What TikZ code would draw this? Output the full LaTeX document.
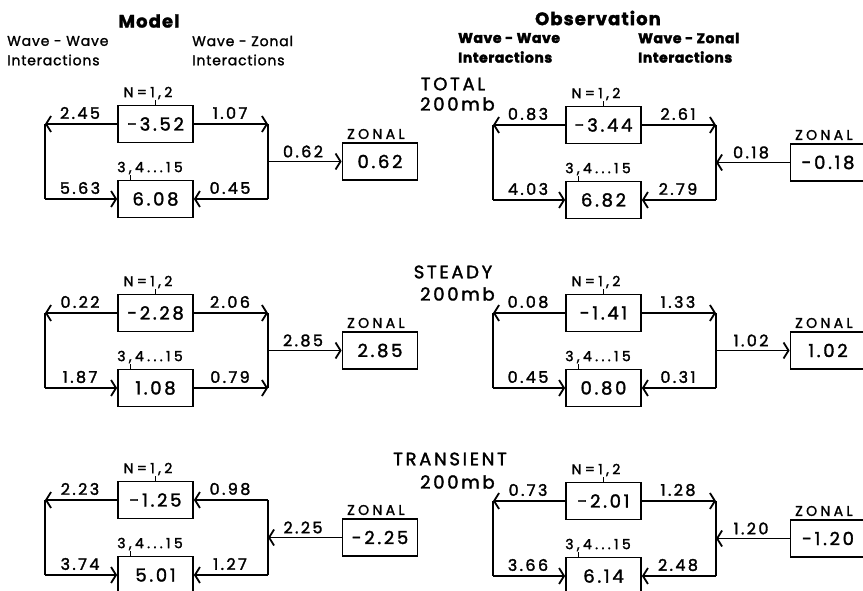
\documentclass[tikz,border=0pt]{standalone}
\usepackage{fontspec}
\setmainfont{Poppins}[LetterSpace=6,FakeBold=1.5]
\newfontfamily\lett{Poppins}[LetterSpace=15,FakeBold=1.8]
\newfontfamily\lettwide{Poppins}[LetterSpace=24,FakeBold=1.8]
\newfontfamily\heavy{Poppins}[LetterSpace=4,FakeBold=2.5]
\usetikzlibrary{arrows.meta}

% One energy-flow panel: upper wave box, lower wave box, zonal box,
% their small captions and the wave-wave loop on the left.
% #1 name prefix, #2 #3 shift, #4 upper value, #5 lower value, #6 zonal value
\newcommand{\fluxpanel}[6]{%
  \begin{scope}[shift={(#2,#3)}]
    \node[valbox] (#1t) at (155.5,0) {#4};
    \node[valbox] (#1b) at (155.5,75) {#5};
    \node[valbox] (#1z) at (380,37.5) {#6};
    \node[tag] (#1tn) at (148,-31) {N=1,2};
    \node[tag] (#1bn) at (150,-31+75) {3,4...15};
    \node[tag,anchor=west] (#1zn) at (347,10) {ZONAL};
    \coordinate (#1tl) at (45,0);
    \coordinate (#1bl) at (45,75);
    \coordinate (#1tr) at (268,0);
    \coordinate (#1br) at (268,75);
    \coordinate (#1j) at (268,37.5);
  \end{scope}
  \draw[thin line] (#1t.north) -- ++(0,-5);
  \draw[thin line] ([xshift=13pt]#1b.north west) -- ++(0,-5);
  \draw[tip] (#1t) -- (#1tl);
  \draw[flow] (#1tl) -- (#1bl);
  \draw[tip] (#1bl) -- (#1b);
  \draw[flow] (#1tr) -- (#1br);
}

% Flux values written along the connectors of panel #1
\newcommand{\fluxnumbers}[6]{%
  \node[num] (#1ntl) at ([xshift=35pt,yshift=11pt]#1tl) {#2};
  \node[num] (#1ntr) at ([xshift=-38pt,yshift=11pt]#1tr) {#3};
  \node[num] (#1nbl) at ([xshift=35pt,yshift=11pt]#1bl) {#4};
  \node[num] (#1nbr) at ([xshift=-38pt,yshift=11pt]#1br) {#5};
  \node[num] (#1nj) at ([xshift=35pt,yshift=10pt]#1j) {#6};
}

\begin{document}
\begin{tikzpicture}[x=1pt,y=-1pt,
  flow/.style={line width=1.8pt},
  thin line/.style={line width=1.2pt},
  tip/.style={flow,-{Straight Barb[length=5pt,width=16pt]}},
  valbox/.style={draw,line width=1.8pt,minimum width=75pt,minimum height=37pt,
    inner sep=0pt,font=\fontsize{18}{18}\lett},
  tag/.style={inner sep=0pt,font=\fontsize{14}{14}\lettwide},
  num/.style={inner sep=0pt,font=\fontsize{16}{16}\lett},
  head/.style={inner sep=0pt,font=\fontsize{18}{18}\selectfont\bfseries},
  sub/.style={inner sep=0pt,anchor=west,font=\fontsize{14}{14}\selectfont},
  subbold/.style={sub,font=\fontsize{14}{14}\heavy\bfseries},
  row/.style={inner sep=0pt,font=\fontsize{18}{18}\lett},
]
\useasboundingbox (0,0) rectangle (863,591);
\clip (0,0) rectangle (863,591);

% column headings
\node[head] (hm) at (149,21) {Model};
\node[sub] (hm1) at (7,41) {Wave - Wave};
\node[sub] (hm2) at (7,60) {Interactions};
\node[sub] (hm3) at (192,41) {Wave - Zonal};
\node[sub] (hm4) at (192,60) {Interactions};
\node[head] (ho) at (598,18) {Observation};
\node[subbold] (ho1) at (458,38) {Wave - Wave};
\node[subbold] (ho2) at (458,57) {Interactions};
\node[subbold] (ho3) at (638,38) {Wave - Zonal};
\node[subbold] (ho4) at (638,57) {Interactions};

% row headings
\node[row] (r1) at (453,84) {TOTAL};
\node[row,anchor=west] (r1p) at (420,104) {200mb};
\node[row] (r2) at (453,272) {STEADY};
\node[row,anchor=west] (r2p) at (420,294) {200mb};
\node[row] (r3) at (450,459) {TRANSIENT};
\node[row,anchor=west] (r3p) at (420,482) {200mb};

% ---- Model, total
\fluxpanel{mA}{0}{124}{-3.52}{6.08}{0.62}
\draw[tip] (mAt) -- (mAtr);
\draw[tip] (mAbr) -- (mAb);
\draw[tip] (mAj) -- (mAz);
\fluxnumbers{mA}{2.45}{1.07}{5.63}{0.45}{0.62}

% ---- Model, steady
\fluxpanel{mB}{0}{313}{-2.28}{1.08}{2.85}
\draw[tip] (mBt) -- (mBtr);
\draw[tip] (mBb) -- (mBbr);
\draw[tip] (mBj) -- (mBz);
\fluxnumbers{mB}{0.22}{2.06}{1.87}{0.79}{2.85}

% ---- Model, transient
\fluxpanel{mC}{0}{500}{-1.25}{5.01}{-2.25}
\draw[tip] (mCtr) -- (mCt);
\draw[tip] (mCbr) -- (mCb);
\draw[tip] (mCz) -- (mCj);
\fluxnumbers{mC}{2.23}{0.98}{3.74}{1.27}{2.25}

% ---- Observation, total
\fluxpanel{oA}{448}{125}{-3.44}{6.82}{-0.18}
\draw[tip] (oAt) -- (oAtr);
\draw[tip] (oAbr) -- (oAb);
\draw[tip] (oAz) -- (oAj);
\fluxnumbers{oA}{0.83}{2.61}{4.03}{2.79}{0.18}

% ---- Observation, steady
\fluxpanel{oB}{448}{313}{-1.41}{0.80}{1.02}
\draw[tip] (oBt) -- (oBtr);
\draw[tip] (oBbr) -- (oBb);
\draw[tip] (oBj) -- (oBz);
\fluxnumbers{oB}{0.08}{1.33}{0.45}{0.31}{1.02}

% ---- Observation, transient
\fluxpanel{oC}{448}{501}{-2.01}{6.14}{-1.20}
\draw[tip] (oCt) -- (oCtr);
\draw[tip] (oCbr) -- (oCb);
\draw[tip] (oCz) -- (oCj);
\fluxnumbers{oC}{0.73}{1.28}{3.66}{2.48}{1.20}
\end{tikzpicture}
\end{document}
